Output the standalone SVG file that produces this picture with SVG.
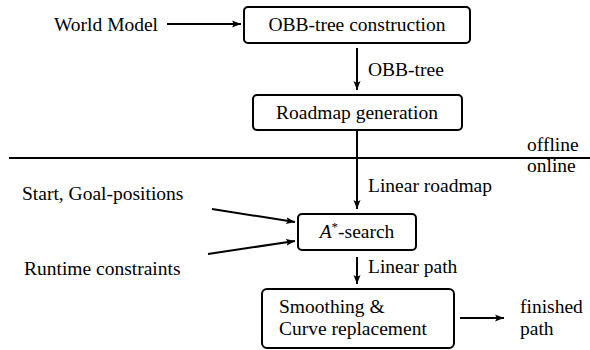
<svg xmlns="http://www.w3.org/2000/svg" width="590" height="350" viewBox="0 0 590 350">
<defs>
<marker id="ah" markerWidth="10" markerHeight="8" refX="9" refY="4" orient="auto" markerUnits="userSpaceOnUse">
<path d="M0,0.5 L9,4 L0,7.5 L2,4 Z" fill="#000"/>
</marker>
<style>
.t{font-family:'Liberation Serif','Times New Roman',serif;font-size:19.5px;fill:#000}
.box{fill:#fff;stroke:#000;stroke-width:2}
.ln{stroke:#000;stroke-width:2;fill:none}
.ar{stroke:#000;stroke-width:2;fill:none;marker-end:url(#ah)}
</style>
</defs>
<rect width="590" height="350" fill="#fff"/>
<g id="connectors">
<line class="ar" x1="167" y1="24" x2="241" y2="24"/>
<line class="ar" x1="357" y1="48" x2="357" y2="90"/>
<line class="ar" x1="357" y1="131" x2="357" y2="209"/>
<line class="ar" x1="212" y1="209" x2="295" y2="222"/>
<line class="ar" x1="208" y1="254" x2="295" y2="241"/>
<line class="ar" x1="357" y1="257" x2="357" y2="284"/>
<line class="ar" x1="460" y1="318" x2="504" y2="318"/>
</g>
<g id="divider">
<line class="ln" x1="9" y1="158" x2="590" y2="158"/>
<text class="t" x="527" y="151">offline</text>
<text class="t" x="527" y="172">online</text>
</g>
<g id="world-model"><text class="t" x="54" y="31">World Model</text></g>
<g id="obb-construction">
<rect class="box" x="244" y="7" width="226" height="36" rx="4"/>
<text class="t" x="357" y="31" text-anchor="middle">OBB-tree construction</text>
</g>
<g id="label-obb"><text class="t" x="368" y="76">OBB-tree</text></g>
<g id="roadmap-generation">
<rect class="box" x="253" y="95" width="209" height="35" rx="4"/>
<text class="t" x="357" y="119" text-anchor="middle">Roadmap generation</text>
</g>
<g id="label-linear-roadmap"><text class="t" x="368" y="192">Linear roadmap</text></g>
<g id="start-goal"><text class="t" x="22" y="200">Start, Goal-positions</text></g>
<g id="runtime-constraints"><text class="t" x="24" y="275">Runtime constraints</text></g>
<g id="astar">
<rect class="box" x="298" y="214" width="118" height="36" rx="4"/>
<text class="t" x="357" y="238" text-anchor="middle"><tspan font-style="italic">A</tspan><tspan font-size="13" dy="-7">*</tspan><tspan dy="7">-search</tspan></text>
</g>
<g id="label-linear-path"><text class="t" x="368" y="273">Linear path</text></g>
<g id="smoothing">
<rect class="box" x="262" y="289" width="192" height="59" rx="5"/>
<text class="t" x="279" y="313">Smoothing &amp;</text>
<text class="t" x="279" y="335">Curve replacement</text>
</g>
<g id="finished-path">
<text class="t" x="520" y="313">finished</text>
<text class="t" x="520" y="335">path</text>
</g>
</svg>
